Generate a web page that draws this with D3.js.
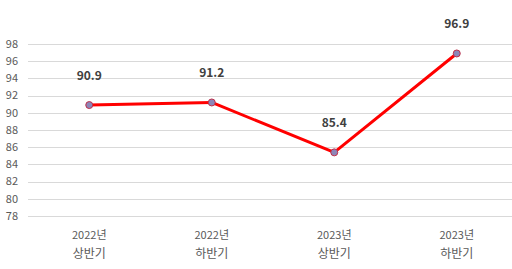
<!DOCTYPE html>
<html>
<head>
<meta charset="utf-8">
<script src="https://cdn.jsdelivr.net/npm/d3@7"></script>
<style>
  html, body { margin: 0; padding: 0; background: #fff; }
  svg { display: block; font-family: "Noto Sans CJK KR", "Noto Sans", sans-serif; }
</style>
</head>
<body>
<div id="chart"></div>
<script>
// Half-year index values
const years = ['2022년', '2022년', '2023년', '2023년'];
const halves = ['상반기', '하반기', '상반기', '하반기'];
const values = [90.9, 91.2, 85.4, 96.9];
const yTicks = [78, 80, 82, 84, 86, 88, 90, 92, 94, 96, 98];

const width = 512, height = 269;
const svg = d3.select('#chart').append('svg')
    .attr('width', width)
    .attr('height', height);

const x = d3.scaleBand().domain(d3.range(values.length)).range([28, 518]);
const y = d3.scaleLinear().domain([78, 98]).range([216, 44]);

// Gridlines
svg.append('g').selectAll('line').data(yTicks).enter()
    .append('line')
    .attr('x1', 28).attr('x2', 512)
    .attr('y1', d => Math.round(y(d)) + 0.5)
    .attr('y2', d => Math.round(y(d)) + 0.5)
    .attr('stroke', '#d9d9d9')
    .attr('stroke-width', 1);

// Y tick labels
svg.append('g').selectAll('text').data(yTicks).enter()
    .append('text')
    .attr('x', 18)
    .attr('y', d => y(d))
    .attr('dy', '0.35em')
    .attr('text-anchor', 'end')
    .attr('font-size', '11px')
    .attr('fill', '#595959')
    .text(d => d);

// Category labels (two lines)
const cat = svg.append('g');
cat.selectAll('.yr').data(years).enter()
    .append('text')
    .attr('x', (d, i) => x(i) + x.bandwidth() / 2)
    .attr('y', 239)
    .attr('text-anchor', 'middle')
    .attr('font-size', '11px')
    .attr('fill', '#595959')
    .text(d => d);
cat.selectAll('.hf').data(halves).enter()
    .append('text')
    .attr('x', (d, i) => x(i) + x.bandwidth() / 2)
    .attr('y', 258)
    .attr('text-anchor', 'middle')
    .attr('font-size', '12px')
    .attr('fill', '#595959')
    .text(d => d);

// Line
const line = d3.line()
    .x((d, i) => x(i) + x.bandwidth() / 2)
    .y(d => y(d));
svg.append('path')
    .datum(values)
    .attr('d', line)
    .attr('fill', 'none')
    .attr('stroke', '#ff0000')
    .attr('stroke-width', 3)
    .attr('stroke-linejoin', 'round');

// Markers
svg.append('g').selectAll('circle').data(values).enter()
    .append('circle')
    .attr('cx', (d, i) => x(i) + x.bandwidth() / 2)
    .attr('cy', d => y(d))
    .attr('r', 3.5)
    .attr('fill', '#8d86b8')
    .attr('stroke', '#c0304a')
    .attr('stroke-width', 1);

// Data labels
svg.append('g').selectAll('text').data(values).enter()
    .append('text')
    .attr('x', (d, i) => x(i) + x.bandwidth() / 2)
    .attr('y', d => y(d) - 25)
    .attr('text-anchor', 'middle')
    .attr('font-size', '12px')
    .attr('font-weight', 'bold')
    .attr('fill', '#404040')
    .text(d => d.toFixed(1));
</script>
</body>
</html>
